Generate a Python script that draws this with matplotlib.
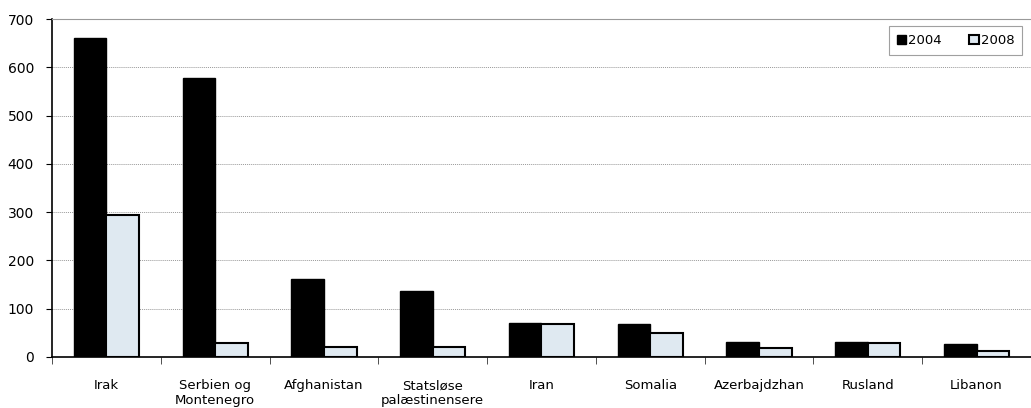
import matplotlib.pyplot as plt
import numpy as np

categories = ['Irak', 'Serbien og\nMontenegro', 'Afghanistan', 'Statsløse\npalæstinensere',
              'Iran', 'Somalia', 'Azerbajdzhan', 'Rusland', 'Libanon']
v2004 = [660, 578, 161, 136, 71, 68, 32, 32, 26]
v2008 = [294, 29, 20, 20, 68, 49, 19, 30, 12]

plt.rcParams['font.family'] = 'DejaVu Sans'
fig = plt.figure(figsize=(10.31, 4.08), dpi=100)
ax = fig.add_axes([0.0504, 0.125, 0.9496, 0.8284])

x = np.arange(len(categories))
w = 0.3
ax.bar(x - w / 2, v2004, w, color='black', edgecolor='black', linewidth=1, label='2004', zorder=3)
ax.bar(x + w / 2, v2008, w, color='#dfe9f1', edgecolor='black', linewidth=1.5, label='2008', zorder=3)

ax.set_xlim(-0.5, len(categories) - 0.5)
ax.set_ylim(0, 700)
ax.set_yticks(range(0, 701, 100))
ax.yaxis.grid(True, linestyle=(0, (1, 1)), color='#999999', linewidth=0.7, zorder=0)

ax.set_xticks(x)
ax.set_xticklabels(categories, fontsize=9.5, linespacing=1.15)
ax.tick_params(axis='x', length=0, pad=16)
ax.set_xticks(np.arange(-0.5, len(categories), 1), minor=True)
ax.tick_params(axis='x', which='minor', length=5, direction='out', color='#333333')
ax.tick_params(axis='y', labelsize=10, length=4, direction='out', pad=9)

ax.spines['right'].set_visible(False)
ax.spines['top'].set_color('#999999')
ax.spines['left'].set_linewidth(1.2)
ax.spines['bottom'].set_linewidth(1.2)

leg = ax.legend(loc='upper right', bbox_to_anchor=(0.991, 0.979), ncol=2, fontsize=9.5,
                handlelength=0.7, handleheight=0.7, handletextpad=0.15, columnspacing=2.1,
                frameon=True, fancybox=False, borderpad=0.6, borderaxespad=0.0)
leg.get_frame().set_edgecolor('#888888')
leg.get_frame().set_linewidth(0.8)

fig.savefig('out.png', dpi=100)
